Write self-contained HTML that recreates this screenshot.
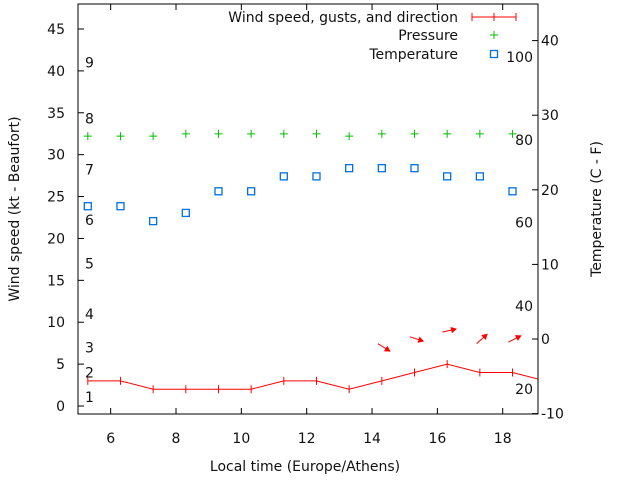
<!DOCTYPE html>
<html><head><meta charset="utf-8"><style>
body{margin:0;background:#fff}
svg{display:block;font-family:"DejaVu Sans","Liberation Sans",sans-serif;font-size:14px}
svg text{fill:#111}
</style></head><body>
<svg id="c" width="640" height="480">
<rect x="0" y="0" width="640" height="480" fill="#fff"/>
<defs><clipPath id="pc"><rect x="78" y="4" width="460" height="410"/></clipPath></defs>
<g id="grid"></g>
<g id="marks" clip-path="url(#pc)"></g>
<rect x="78" y="4" width="460" height="410" fill="none" stroke="#000"/>
<g id="axes"></g>
<text x="305" y="471" text-anchor="middle">Local time (Europe/Athens)</text>
<text transform="translate(19,209) rotate(-90)" text-anchor="middle">Wind speed (kt - Beaufort)</text>
<text transform="translate(601,209) rotate(-90)" text-anchor="middle">Temperature (C - F)</text>
<g>
<text x="458" y="22" text-anchor="end">Wind speed, gusts, and direction</text>
<path d="M472 17H516M472 13V21M494 13V21M516 13V21" stroke="red"/>
<text x="458" y="40" text-anchor="end">Pressure</text>
<path d="M490 35H498M494 31V39" stroke="#00c000"/>
<text x="458" y="59" text-anchor="end">Temperature</text>
<rect x="490.5" y="50.5" width="7" height="7" fill="none" stroke="#0070e0" stroke-width="1.3"/>
</g>
</svg>
<script>
const hours=[5.3,6.3,7.3,8.3,9.3,10.3,11.3,12.3,13.3,14.3,15.3,16.3,17.3,18.3,19.3];
const wind=[3,3,2,2,2,2,3,3,2,3,4,5,4,4,3];
const pressure=[27.2,27.2,27.2,27.5,27.5,27.5,27.5,27.5,27.2,27.5,27.5,27.5,27.5,27.5];
const temperature=[17.8,17.8,15.8,16.9,19.8,19.8,21.8,21.8,22.9,22.9,22.9,21.8,21.8,19.8];
const arrowHours=[14.3,15.3,16.3,17.3,18.3];
const arrowWind=[3,4,5,4,4];
const arrowAngle=[32,18,-13,-42,-27];
const xTicks=[6,8,10,12,14,16,18];
const yTicks=[0,5,10,15,20,25,30,35,40,45];
const y2Ticks=[-10,0,10,20,30,40];
const beaufortLabels=["1","2","3","4","5","6","7","8","9"];
const beaufortKt=[1.1,4,7,11,17,22.2,28.2,34.3,41];
const fahrLabels=["20","40","60","80","100"];
const fahrC=[-6.7,4.4,15.6,26.7,37.8];
const NS="http://www.w3.org/2000/svg";
const X=v=>78+(v-5)*32.67;
const Y=v=>406-v*8.378;
const Y2=v=>339-v*7.46;
function mk(tag,attrs,parent,txt){const e=document.createElementNS(NS,tag);for(const k in attrs)e.setAttribute(k,attrs[k]);if(txt!==undefined)e.textContent=txt;document.getElementById(parent).appendChild(e);return e;}
xTicks.forEach(t=>{
 const l=mk('path',{d:`M${X(t)} 414v-6M${X(t)} 4v6`,stroke:'#000'},'axes');
 
 
 const s=mk('text',{x:X(t),y:443,'text-anchor':'middle'},'axes',t);
 
 
});
yTicks.forEach(t=>{
 const l=mk('path',{d:`M78 ${Y(t)}h6`,stroke:'#000'},'axes');
 
 
 const s=mk('text',{x:65,y:Y(t)+5,'text-anchor':'end'},'axes',t);
 
 
});
y2Ticks.forEach(t=>{
 const l=mk('path',{d:`M538 ${Y2(t)}h-6`,stroke:'#000'},'axes');
 
 
 const s=mk('text',{x:541,y:Y2(t)+5,'text-anchor':'start'},'axes',t);
 
 
});
beaufortLabels.forEach((b,i)=>{
 const s=mk('text',{x:85,y:Y(beaufortKt[i])+5},'axes',b);
 
 
});
fahrLabels.forEach((f,i)=>{
 const s=mk('text',{x:533,y:Y2(fahrC[i])+5,'text-anchor':'end'},'axes',f);
 
 
});
const wl=mk('polyline',{points:hours.map((h,i)=>X(h)+','+Y(wind[i])).join(' '),fill:'none',stroke:'red'},'marks');


hours.forEach((h,i)=>{
 const p=mk('path',{d:`M${X(h)} ${Y(wind[i])-4}v8`,stroke:'red'},'marks');
 
 
});
arrowHours.forEach((h,i)=>{
 const cx=X(h)+2,cy=Y(arrowWind[i]+4),a=arrowAngle[i]*Math.PI/180,L=7;
 const dx=Math.cos(a)*L,dy=Math.sin(a)*L;
 const hx=cx+dx,hy=cy+dy;
 const b1=a+Math.PI-0.5,b2=a+Math.PI+0.5;
 const g=mk('path',{d:`M${cx-dx} ${cy-dy}L${hx} ${hy}M${hx} ${hy}L${hx+5*Math.cos(b1)} ${hy+5*Math.sin(b1)}L${hx+5*Math.cos(b2)} ${hy+5*Math.sin(b2)}Z`,stroke:'red',fill:'red'},'marks');
 
 
});
pressure.forEach((p,i)=>{
 const e=mk('path',{d:`M${X(hours[i])-4} ${Y2(p)}h8M${X(hours[i])} ${Y2(p)-4}v8`,stroke:'#00c000'},'marks');
 
 
});
temperature.forEach((t,i)=>{
 const e=mk('rect',{x:X(hours[i])-3.5,y:Y2(t)-3.5,width:7,height:7,fill:'none',stroke:'#0070e0','stroke-width':1.3},'marks');
 
 
});
</script>
</body></html>
